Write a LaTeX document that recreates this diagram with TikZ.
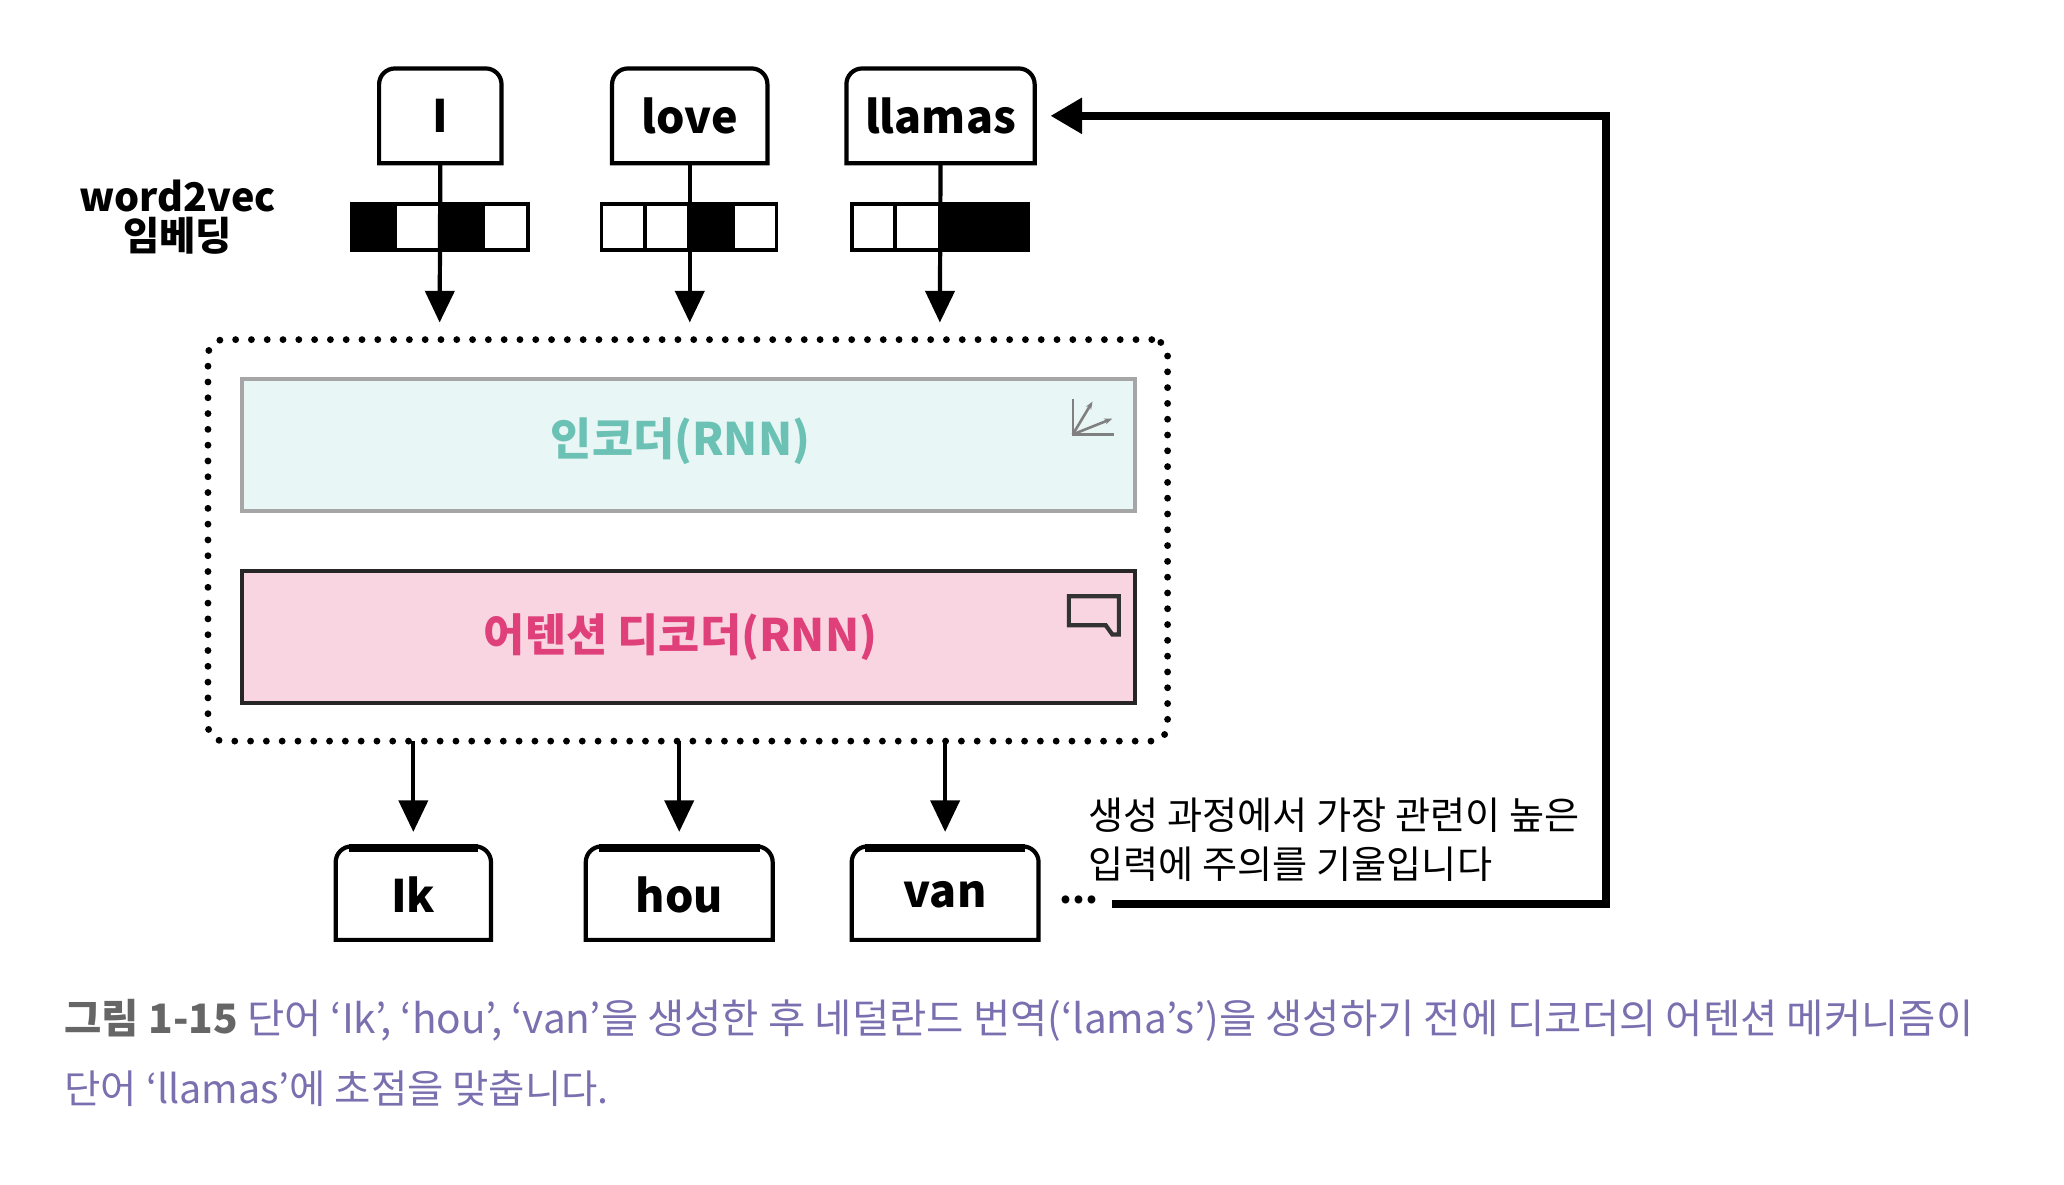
\documentclass[tikz,border=0pt]{standalone}
\usepackage{fontspec}
\setmainfont{Noto Sans CJK KR}
\usetikzlibrary{arrows.meta}
\definecolor{enc}{HTML}{E8F6F5}
\definecolor{enct}{HTML}{6CC1B5}
\definecolor{dec}{HTML}{F8D5E0}
\definecolor{dect}{HTML}{E0407A}
\definecolor{cap}{HTML}{7A70B0}
\begin{document}
\begin{tikzpicture}[x=0.5pt,y=-0.5pt,
  lbl/.style={font=\fontsize{17}{17}\selectfont\bfseries},
  arr/.style={line width=1.6pt,-{Triangle[length=12pt,width=11pt]}},
  cell/.style={draw,line width=1.4pt}]
\useasboundingbox (0,0) rectangle (1568,900);
% input tokens
\foreach \n/\a/\b/\t in {i/288/381/I,love/465/583/love,llamas/643/786/llamas}{
  \draw[line width=1.6pt,fill=white] (\a,124) [rounded corners=6pt]-- (\a,52) -- (\b,52) [sharp corners]-- (\b,124) -- cycle;
  \node[lbl] (\n) at ({(\a+\b)/2},88) {\t};
  \coordinate (\n b) at ({(\a+\b)/2},124);
}
% vectors
\foreach \x/\f in {267/black,300/white,334/black,367/white}{\draw[cell,fill=\f] (\x,155) rectangle ++(34,35);}
\foreach \x/\f in {457/white,490/white,523/black,557/white}{\draw[cell,fill=\f] (\x,155) rectangle ++(33,35);}
\foreach \x/\f in {647/white,680/white,714/black,747/black}{\draw[cell,fill=\f] (\x,155) rectangle ++(34,35);}
\node[font=\fontsize{15}{17}\selectfont\bfseries,align=center] (w2v) at (135,165) {word2vec\\[-2pt]임베딩};
% container
\node[draw,line width=2.6pt,line cap=round,dash pattern=on 0pt off 6pt,rounded corners=6pt,minimum width=729*0.5pt,minimum height=305*0.5pt] (box) at (522.5,410.5) {};
\coordinate (ia) at (334,245); \coordinate (la) at (524,245); \coordinate (ma) at (714,245);
\draw[arr] (ib) -- (ia); \draw[arr] (loveb) -- (la); \draw[arr] (llamasb) -- (ma);
% encoder / decoder
\node[draw=gray!70,line width=1.6pt,fill=enc,minimum width=678*0.5pt,minimum height=100*0.5pt] (enc) at (523,338) {};
\node[text=enct,font=\fontsize{17}{17}\selectfont\bfseries] (enct) at (517,335) {인코더(RNN)};
\node[draw=black!85,line width=1.6pt,fill=dec,minimum width=678*0.5pt,minimum height=100*0.5pt] (dec) at (523,484) {};
\node[text=dect,font=\fontsize{17}{17}\selectfont\bfseries] (dect) at (517,484) {어텐션 디코더(RNN)};
% icons
\draw[gray,line width=1pt] (815,303) -- (815,330) -- (846,330);
\draw[gray,line width=1pt,-{Stealth[length=3pt]}] (815,330) -- (830,305);
\draw[gray,line width=1pt,-{Stealth[length=3pt]}] (815,330) -- (845,318);
\draw[black!80,line width=1.6pt] (812,453) -- (850,453) -- (850,482) -- (845,482) -- (840,475) -- (812,475) -- cycle;
% outputs
\foreach \n/\a/\b/\t in {ik/255/373/Ik,hou/445/587/hou,van/647/789/van}{
  \draw[line width=1.6pt,fill=white] (\a,714) [rounded corners=6pt]-- (\a,643) -- (\b,643) [sharp corners]-- (\b,714) -- cycle;
  \draw[line width=3pt] (\a+10,644) -- (\b-10,644);
  \node[lbl] (\n) at ({(\a+\b)/2},680) {\t};
  \coordinate (\n t) at ({(\a+\b)/2},632);
}
\coordinate (d1) at (314,563); \coordinate (d2) at (516,563); \coordinate (d3) at (718,563);
\draw[arr] (d1) -- (ikt); \draw[arr] (d2) -- (hout); \draw[arr] (d3) -- (vant);
\node[font=\fontsize{14}{14}\selectfont\bfseries] (dots) at (820,684) {...};
\coordinate (fb) at (845,687); \coordinate (fc) at (1220,687); \coordinate (fd) at (1220,88);
\draw[line width=3pt,-{Triangle[length=12pt,width=13pt]}] (fb) -- (fc) -- (fd) -- (llamas.east -| 798,0);
\node[anchor=west,align=left,font=\fontsize{14.5}{18.5}\selectfont] (note) at (820,638) {생성 과정에서 가장 관련이 높은\\입력에 주의를 기울입니다};
% caption
\node[anchor=west,text=cap,font=\fontsize{15}{15}\selectfont] (c1) at (42,775) {\resizebox{725pt}{!}{\textcolor{black!60}{\bfseries 그림 1-15} 단어 ‘Ik’, ‘hou’, ‘van’을 생성한 후 네덜란드 번역(‘lama’s’)을 생성하기 전에 디코더의 어텐션 메커니즘이}};
\node[anchor=west,text=cap,font=\fontsize{15}{15}\selectfont] (c2) at (42,827) {단어 ‘llamas’에 초점을 맞춥니다.};
\end{tikzpicture}
\end{document}
